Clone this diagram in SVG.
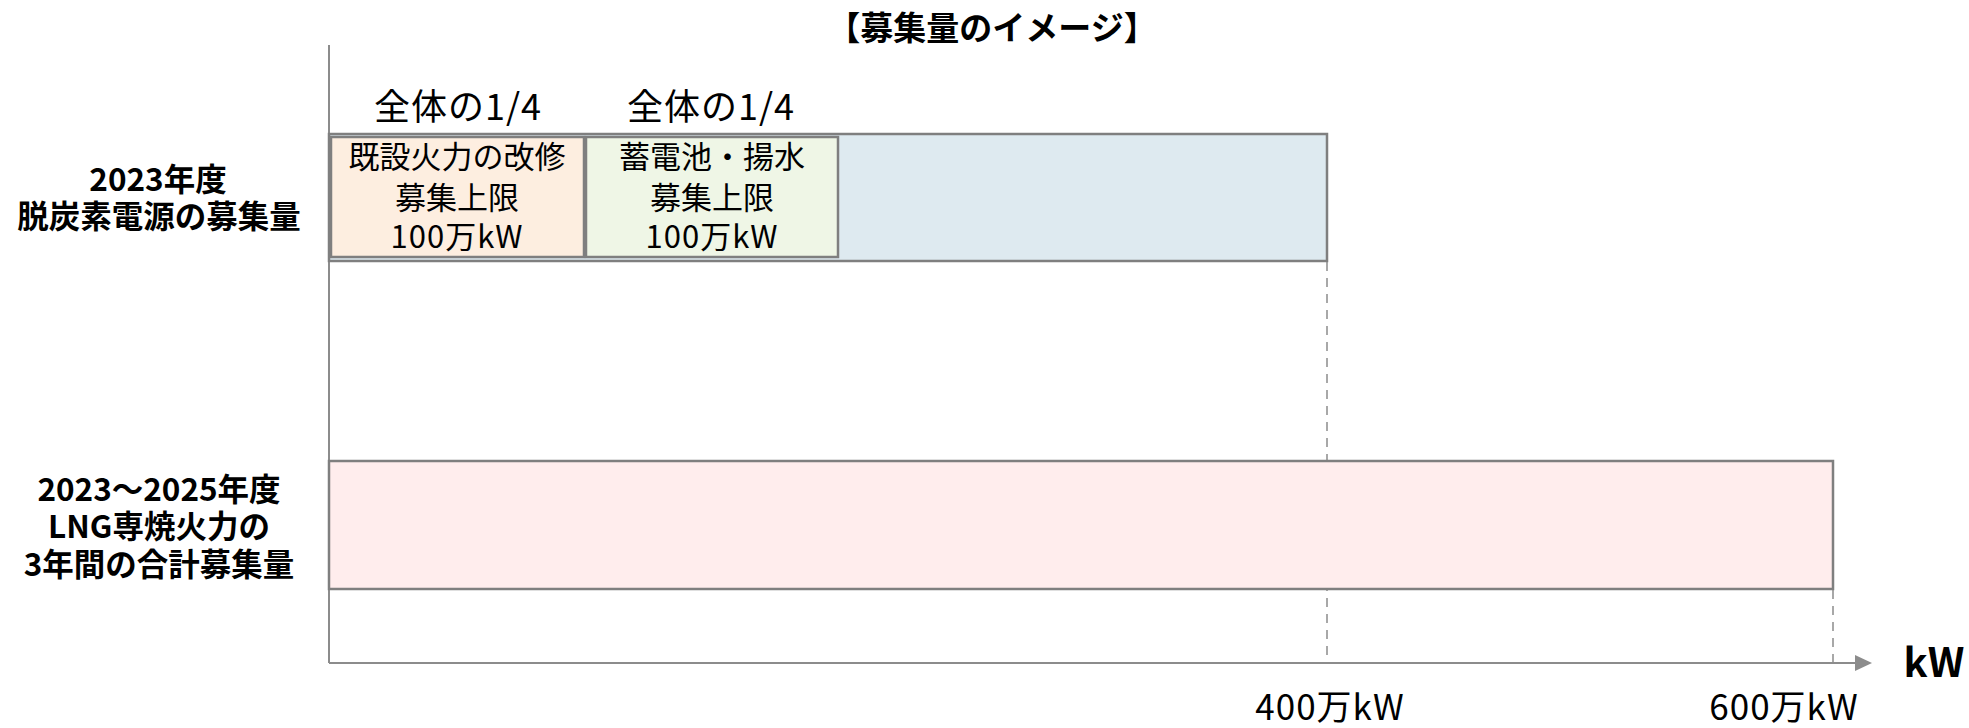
<svg xmlns="http://www.w3.org/2000/svg" width="1969" height="728" viewBox="0 0 1969 728">
<style>
  text { font-family: "Noto Sans CJK JP", "Noto Sans", sans-serif; fill: #000; text-anchor: middle; }
  .t { font-weight: bold; font-size: 33px; }
  .b { font-weight: bold; font-size: 31.5px; }
  .n { font-weight: normal; font-size: 31px; }
  .L { font-weight: normal; font-size: 36px; }
  .box { stroke: #7f7f7f; stroke-width: 2.5; }
  .axis { stroke: #8c8c8c; stroke-width: 2; fill: none; }
  .dash { stroke: #8c8c8c; stroke-width: 1.5; stroke-dasharray: 9 7; fill: none; }
</style>
<rect width="1969" height="728" fill="#ffffff"/>
<text class="t" x="992" y="40">【募集量のイメージ】</text>

<g id="connectors">
  <line class="dash" x1="1327" y1="262" x2="1327" y2="663"/>
  <line class="dash" x1="1833" y1="590" x2="1833" y2="663"/>
  <line class="axis" x1="329" y1="45" x2="329" y2="663"/>
  <path class="axis" d="M329,663 L1856,663"/>
  <path d="M1855,655 L1872,663 L1855,671 Z" fill="#8c8c8c"/>
</g>

<g id="bar2023">
  <rect class="box" x="329" y="134" width="998" height="127" fill="#deeaf0"/>
</g>
<g id="kaishu">
  <rect class="box" x="331" y="137" width="253" height="120" fill="#fdeee0"/>
  <text class="n" x="457" y="168">既設火力の改修</text>
  <text class="n" x="457" y="209">募集上限</text>
  <text class="n" x="457" y="248" letter-spacing="1">100万kW</text>
</g>
<g id="chikuden">
  <rect class="box" x="586" y="137" width="252" height="120" fill="#eff6e6"/>
  <text class="n" x="712" y="168">蓄電池・揚水</text>
  <text class="n" x="712" y="209">募集上限</text>
  <text class="n" x="712" y="248" letter-spacing="1">100万kW</text>
</g>
<g id="lng">
  <rect class="box" x="329" y="461" width="1504" height="128" fill="#ffeded"/>
</g>

<g id="labels">
  <text class="L" x="458" y="120" letter-spacing="1">全体の1/4</text>
  <text class="L" x="711" y="120" letter-spacing="1">全体の1/4</text>
  <text class="b" x="158" y="191">2023年度</text>
  <text class="b" x="159" y="228">脱炭素電源の募集量</text>
  <text class="b" x="159" y="501">2023〜2025年度</text>
  <text class="b" x="159" y="538">LNG専焼火力の</text>
  <text class="b" x="159" y="576">3年間の合計募集量</text>
  <text class="b" x="1934" y="677" style="font-size:40px">kW</text>
  <text class="L" x="1330" y="720" style="font-size:35px" letter-spacing="1">400万kW</text>
  <text class="L" x="1784" y="720" style="font-size:35px" letter-spacing="1">600万kW</text>
</g>
</svg>
